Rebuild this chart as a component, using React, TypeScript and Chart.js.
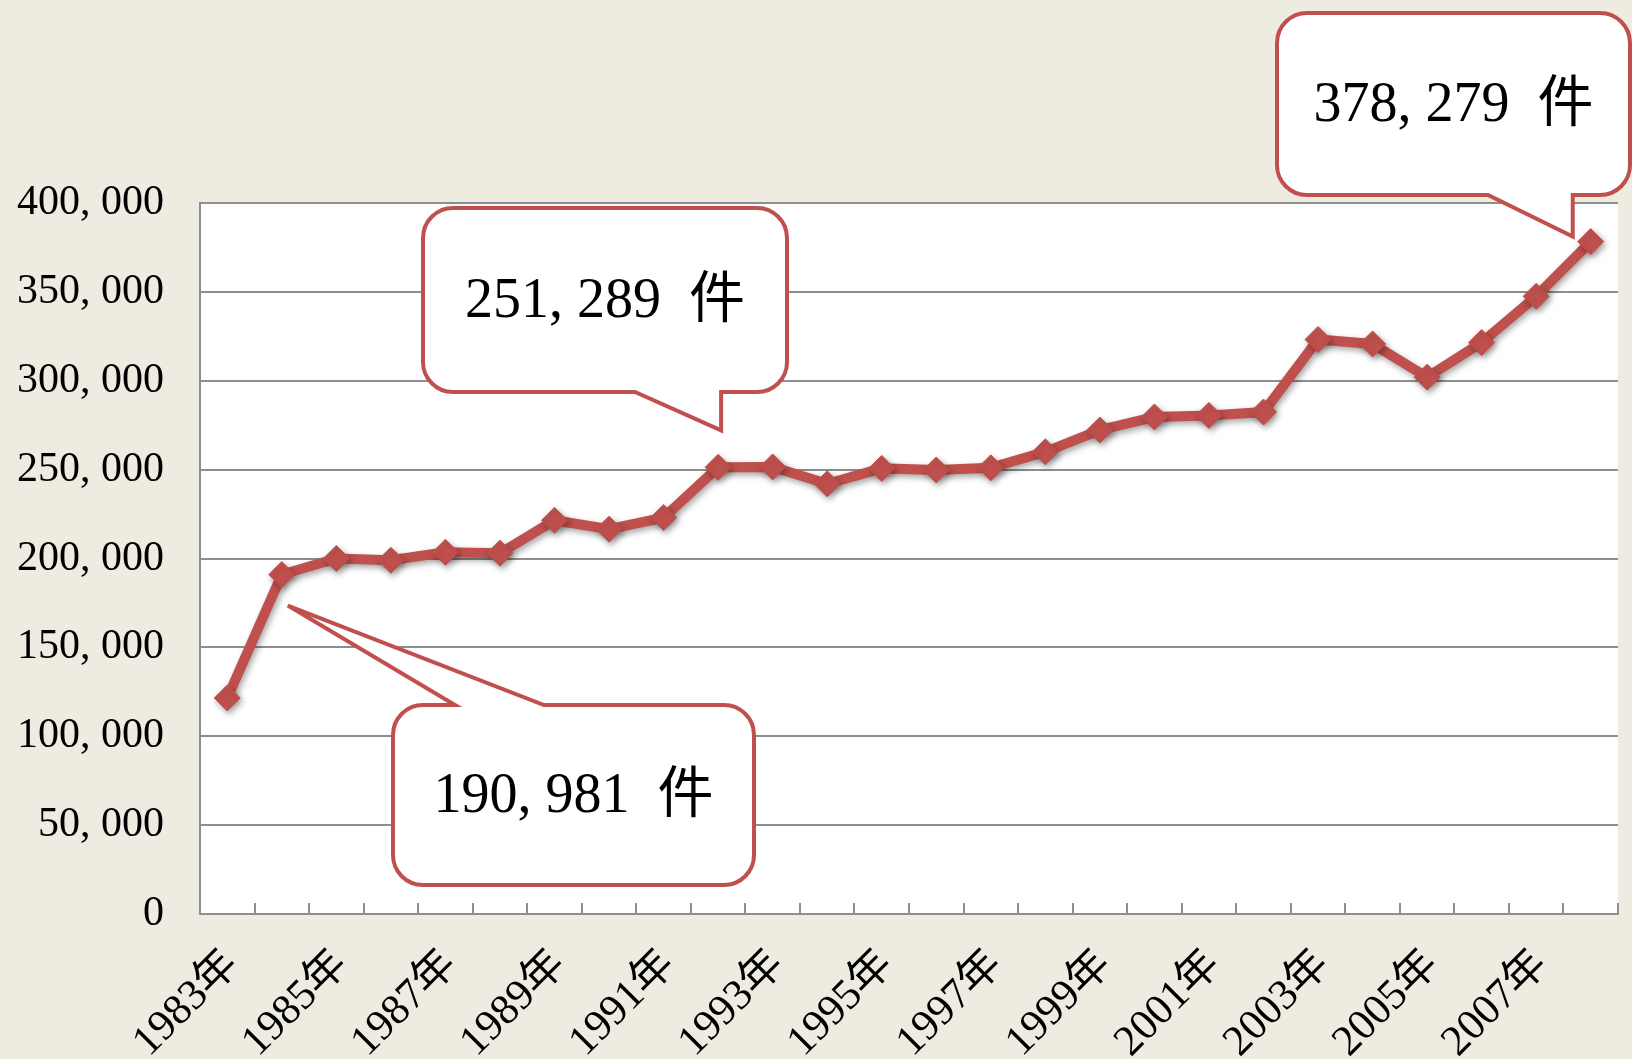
import React, { useEffect, useRef } from "react";
import { Chart, registerables } from "chart.js";

Chart.register(...registerables);

const years = [
  "1983年", "1984年", "1985年", "1986年", "1987年", "1988年", "1989年",
  "1990年", "1991年", "1992年", "1993年", "1994年", "1995年", "1996年",
  "1997年", "1998年", "1999年", "2000年", "2001年", "2002年", "2003年",
  "2004年", "2005年", "2006年", "2007年", "2008年",
];

const counts = [
  121500, 190981, 200000, 199000, 203500, 203000, 221500,
  216500, 223000, 251289, 251500, 242000, 250700, 249800,
  251000, 260000, 272300, 279600, 280500, 282400, 323200,
  320700, 302000, 321500, 347500, 378279,
];

const yTicks = [0, 50000, 100000, 150000, 200000, 250000, 300000, 350000, 400000];

const calloutIndexes = [1, 9, 25];
const calloutTexts = ["190, 981  件", "251, 289  件", "378, 279  件"];

// layout of the callout bubbles (positions in canvas pixels), kept apart from data
const calloutLayout = [
  { x: 393, y: 705, w: 361, h: 180, side: "top", b1: 455, b2: 544, dx: 6, dy: 31 },
  { x: 423, y: 208, w: 364, h: 184, side: "bottom", b1: 635, b2: 723, dx: 3, dy: -37 },
  { x: 1277, y: 13, w: 353, h: 182, side: "bottom", b1: 1488, b2: 1577, dx: -18, dy: -5 },
];

const RED = "#C0504D";
const BG = "#EEEBE0";
const GRID = "#8E8E8E";
const SERIF = '"Liberation Serif", "Noto Sans CJK JP", serif';

function fmt(v: number): string {
  return v.toLocaleString("en-US").replace(/,/g, ", ");
}

const bgPlugin = {
  id: "bgPlugin",
  beforeDraw(chart: any) {
    const { ctx, chartArea } = chart;
    ctx.save();
    ctx.fillStyle = BG;
    ctx.fillRect(0, 0, chart.width, chart.height);
    ctx.fillStyle = "#ffffff";
    ctx.fillRect(chartArea.left, chartArea.top, chartArea.right - chartArea.left, chartArea.bottom - chartArea.top);
    ctx.restore();
  },
  afterDraw(chart: any) {
    const { ctx, chartArea } = chart;
    const xs = chart.scales.x;
    const n = years.length;
    const w = (chartArea.right - chartArea.left) / n;
    ctx.save();
    ctx.strokeStyle = GRID;
    ctx.lineWidth = 2;
    for (let i = 0; i <= n; i++) {
      const x = Math.round(xs.getPixelForValue(0) - w / 2 + i * w);
      ctx.beginPath();
      ctx.moveTo(x, chartArea.bottom);
      ctx.lineTo(x, chartArea.bottom - 11);
      ctx.stroke();
    }
    ctx.restore();
  },
};

const shadowPlugin = {
  id: "shadowPlugin",
  beforeDatasetsDraw(chart: any) {
    const ctx = chart.ctx;
    ctx.save();
    ctx.shadowColor = "rgba(0,0,0,0.35)";
    ctx.shadowBlur = 6;
    ctx.shadowOffsetX = 2;
    ctx.shadowOffsetY = 3;
  },
  afterDatasetsDraw(chart: any) {
    chart.ctx.restore();
  },
};

const calloutPlugin = {
  id: "calloutPlugin",
  afterDraw(chart: any) {
    const { ctx } = chart;
    const meta = chart.getDatasetMeta(0);
    calloutIndexes.forEach((idx, k) => {
      const L = calloutLayout[k];
      const pt = meta.data[idx];
      const tipX = pt.x + L.dx;
      const tipY = pt.y + L.dy;
      const r = 30;
      const { x, y, w, h } = L;
      ctx.save();
      ctx.beginPath();
      ctx.moveTo(x + r, y);
      if (L.side === "top") {
        ctx.lineTo(L.b1, y);
        ctx.lineTo(tipX, tipY);
        ctx.lineTo(L.b2, y);
      }
      ctx.lineTo(x + w - r, y);
      ctx.arcTo(x + w, y, x + w, y + r, r);
      ctx.lineTo(x + w, y + h - r);
      ctx.arcTo(x + w, y + h, x + w - r, y + h, r);
      if (L.side === "bottom") {
        ctx.lineTo(tipX, y + h);
        ctx.lineTo(tipX, tipY);
        ctx.lineTo(L.b1, y + h);
      }
      ctx.lineTo(x + r, y + h);
      ctx.arcTo(x, y + h, x, y + h - r, r);
      ctx.lineTo(x, y + r);
      ctx.arcTo(x, y, x + r, y, r);
      ctx.closePath();
      ctx.fillStyle = "#ffffff";
      ctx.fill();
      ctx.lineWidth = 4;
      ctx.strokeStyle = RED;
      ctx.lineJoin = "miter";
      ctx.stroke();
      ctx.fillStyle = "#000000";
      ctx.font = "56px " + SERIF;
      ctx.textAlign = "center";
      ctx.textBaseline = "middle";
      ctx.fillText(calloutTexts[k], x + w / 2, y + h / 2 + 2);
      ctx.restore();
    });
  },
};

export default function App() {
  const ref = useRef<HTMLCanvasElement | null>(null);
  useEffect(() => {
    if (!ref.current) return;
    const chart = new Chart(ref.current, {
      type: "line",
      data: {
        labels: years,
        datasets: [
          {
            data: counts,
            borderColor: RED,
            backgroundColor: RED,
            borderWidth: 10,
            pointStyle: "rectRot",
            pointRadius: 13,
            pointBackgroundColor: RED,
            pointBorderColor: RED,
            pointBorderWidth: 1,
            tension: 0,
            fill: false,
          },
        ],
      },
      options: {
        responsive: false,
        animation: false,
        layout: { padding: { top: 203, right: 9, left: 0, bottom: 0 } },
        plugins: {
          legend: { display: false },
          tooltip: { enabled: false },
        },
        scales: {
          x: {
            offset: true,
            grid: { display: false, offset: true },
            border: { display: true, color: GRID, width: 2 },
            ticks: {
              autoSkip: false,
              minRotation: 45,
              maxRotation: 45,
              padding: 18,
              labelOffset: 5,
              color: "#000000",
              font: { family: SERIF, size: 43 },
              callback: (_v: any, i: number) => (i % 2 === 0 ? years[i] : ""),
            },
            afterFit: (s: any) => {
              s.height = 145;
              s.paddingLeft = 0;
              s.paddingRight = 0;
            },
          },
          y: {
            min: 0,
            max: 400000,
            afterBuildTicks: (s: any) => {
              s.ticks = yTicks.map((v) => ({ value: v }));
            },
            grid: { color: GRID, lineWidth: 2, drawTicks: false },
            border: { display: true, color: GRID, width: 2 },
            ticks: {
              padding: 36,
              color: "#000000",
              font: { family: SERIF, size: 42 },
              callback: (v: any) => fmt(Number(v)),
            },
            afterFit: (s: any) => {
              s.width = 200;
              s.paddingTop = 0;
              s.paddingBottom = 0;
            },
          },
        },
      },
      plugins: [bgPlugin, shadowPlugin, calloutPlugin],
    });
    return () => chart.destroy();
  }, []);
  return (
    <div style={{ position: "fixed", left: 0, top: 0, width: 1632, height: 1059, background: BG }}>
      <canvas ref={ref} width={1632} height={1059} style={{ display: "block", width: 1632, height: 1059 }} />
    </div>
  );
}
